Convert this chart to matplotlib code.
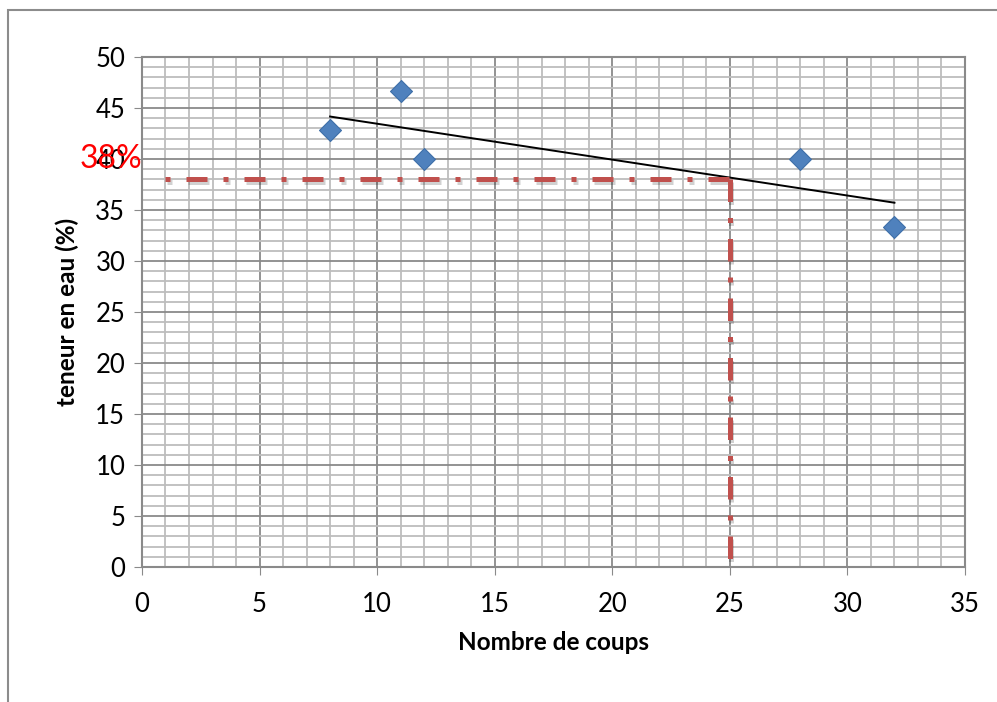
import numpy as np
import matplotlib.pyplot as plt
import matplotlib.patheffects as pe
from matplotlib.patches import Rectangle
from matplotlib.ticker import MultipleLocator

plt.rcParams['font.family'] = ['Lato', 'DejaVu Sans']

# donnees
coups = [8, 11, 12, 28, 32]
teneur = [42.86, 46.67, 40.0, 40.0, 33.33]
x_ticks = [0, 5, 10, 15, 20, 25, 30, 35]
y_ticks = [0, 5, 10, 15, 20, 25, 30, 35, 40, 45, 50]
n_limite = 25
w_limite = 38
x_debut_ligne = 1

fig = plt.figure(figsize=(9.97, 7.02), dpi=100)
ax = fig.add_axes([0.1424, 0.1923, 0.9679 - 0.1424, 0.9188 - 0.1923])

# cadre exterieur
fig.patches.append(Rectangle((7.5 / 997, -0.05), 1.1, 1.05 - 9.5 / 702,
                             transform=fig.transFigure, fill=False,
                             edgecolor='#8c8c8c', lw=1.5))

ax.xaxis.set_major_locator(MultipleLocator(5))
ax.yaxis.set_major_locator(MultipleLocator(5))
ax.xaxis.set_minor_locator(MultipleLocator(1))
ax.yaxis.set_minor_locator(MultipleLocator(1))
ax.grid(which='major', color='#8a8a8a', lw=1.3)
ax.grid(which='minor', color='#bdbdbd', lw=1.3)
ax.set_axisbelow(True)

ax.set_xlim(0, 35)
ax.set_ylim(0, 50)
ax.set_xticks(x_ticks)
ax.set_yticks(y_ticks)
ax.tick_params(which='major', length=6, color='#8a8a8a', labelsize=18.5)
ax.tick_params(axis='x', pad=12)
ax.tick_params(axis='y', pad=6)
ax.tick_params(which='minor', length=0)
for s in ax.spines.values():
    s.set_color('#8a8a8a')
    s.set_linewidth(1.5)

# courbe de tendance
a, b = np.polyfit(coups, teneur, 1)
xt = np.array([min(coups), max(coups)])
ax.plot(xt, a * xt + b, color='black', lw=1.4, zorder=3)

# lignes de lecture
ombre = [pe.SimpleLineShadow(offset=(0.8, -2), alpha=0.18), pe.Normal()]
ax.plot([x_debut_ligne, n_limite], [w_limite, w_limite], color='#c0504d', lw=3.6,
        dashes=(1, 3.2, 4.2, 3.2), zorder=3, path_effects=ombre)
ax.plot([n_limite, n_limite], [w_limite, 0], color='#c0504d', lw=3.6,
        dashes=(4.5, 3.2, 1, 3.2), zorder=3, path_effects=ombre)

ax.scatter(coups, teneur, marker='D', s=125, color='#4f81bd', edgecolors='#3f6fa8',
           linewidths=0.8, zorder=4)

ax.text(-1.3, 40, '38%', color='red', fontsize=23, ha='center', va='center',
        clip_on=False)

ax.set_xlabel('Nombre de coups', fontsize=17.5, fontweight='bold', labelpad=10)
ax.set_ylabel('teneur en eau (%)', fontsize=17.5, fontweight='bold', labelpad=12)

fig.savefig('out.png', dpi=100)
